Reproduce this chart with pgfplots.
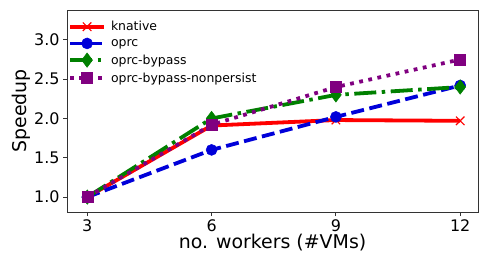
\documentclass[border=0pt]{standalone}
\usepackage{fontspec}
\setmainfont{DejaVu Sans}
\usepackage{pgfplots}
\pgfplotsset{compat=1.18}
\definecolor{cblue}{rgb}{0,0,0.85}
\definecolor{cgreen}{rgb}{0,0.5,0}
\definecolor{cpurple}{rgb}{0.5,0,0.5}
\begin{document}
\begin{tikzpicture}
\begin{axis}[
  scale only axis,
  width=411bp, height=202bp,
  xmin=2.51, xmax=12.43,
  ymin=0.81, ymax=3.38,
  xtick={3,6,9,12},
  ytick={1.0,1.5,2.0,2.5,3.0},
  yticklabel style={/pgf/number format/fixed,/pgf/number format/fixed zerofill,/pgf/number format/precision=1},
  /pgf/number format/assume math mode=true,
  tick label style={font=\fontsize{16}{18}\selectfont},
  label style={font=\fontsize{19}{22}\selectfont},
  xlabel={no. workers (\#VMs)},
  ylabel={Speedup},
  xlabel style={yshift=4bp},
  ylabel style={yshift=-3bp},
  tick align=outside,
  tick pos=left,
  major tick length=4bp,
  axis line style={black!80, line width=0.8bp},
  every tick/.style={black!80, line width=0.8bp},
  legend style={draw=none, fill=none, font=\fontsize{12.5}{14}\selectfont, row sep=3bp, at={(0.0,0.965)}, anchor=north west, inner xsep=1bp, nodes={inner xsep=5bp}},
  legend cell align=left,
  legend image code/.code={\draw[#1] (0bp,0bp) -- (34bp,0bp); \draw[#1, solid] plot coordinates {(17bp,0bp)};},
  every axis plot/.append style={line width=3.8bp},
]
\addplot[color=red, mark=x, mark size=6bp, mark options={line width=1.2bp}] coordinates {(3,1.0) (6,1.91) (9,1.98) (12,1.97)};
\addlegendentry{knative}
\addplot[color=cblue, dash pattern=on 13bp off 5.5bp, mark=*, mark size=5.5bp, mark options={solid, line width=0.5bp}] coordinates {(3,1.0) (6,1.60) (9,2.02) (12,2.42)};
\addlegendentry{oprc}
\addplot[color=cgreen, dash pattern=on 22bp off 5.5bp on 3.5bp off 5.5bp, mark=diamond*, mark size=7.2bp, mark options={solid, line width=0.5bp}] coordinates {(3,1.0) (6,2.0) (9,2.30) (12,2.40)};
\addlegendentry{oprc-bypass}
\addplot[color=cpurple, dash pattern=on 3.8bp off 5.5bp, mark=square*, mark size=5.5bp, mark options={solid, line width=0.5bp}] coordinates {(3,1.0) (6,1.92) (9,2.40) (12,2.75)};
\addlegendentry{oprc-bypass-nonpersist}
\end{axis}
\pgfresetboundingbox
\path (current axis.south west) ++(-67bp,-59bp) rectangle ([shift={(10bp,10bp)}]current axis.north east);
\end{tikzpicture}
\end{document}
